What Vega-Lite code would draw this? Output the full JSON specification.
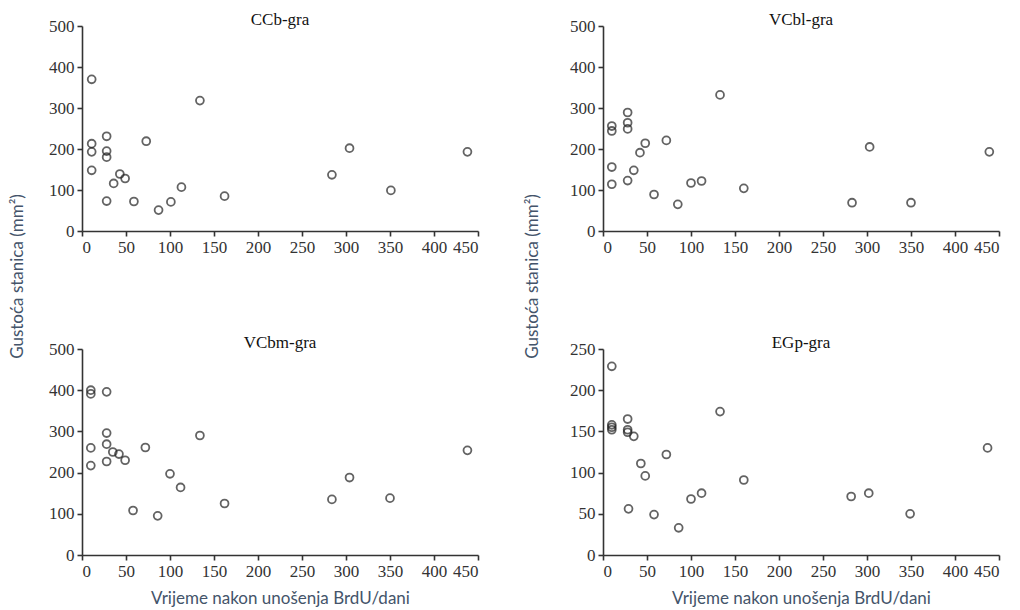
{
  "$schema": "https://vega.github.io/schema/vega-lite/v6.json",
  "background": "white",
  "padding": {"left": 8, "top": 11, "right": 5, "bottom": 5},
  "bounds": "flush",
  "columns": 2,
  "spacing": {"row": 118, "column": 125},
  "datasets": {
    "pts": [
      {"panel": "CCb-gra", "days": 11, "density": 370},
      {"panel": "CCb-gra", "days": 11, "density": 213},
      {"panel": "CCb-gra", "days": 11, "density": 193},
      {"panel": "CCb-gra", "days": 11, "density": 148},
      {"panel": "CCb-gra", "days": 28, "density": 231},
      {"panel": "CCb-gra", "days": 28, "density": 195},
      {"panel": "CCb-gra", "days": 28, "density": 180},
      {"panel": "CCb-gra", "days": 28, "density": 73},
      {"panel": "CCb-gra", "days": 36, "density": 116},
      {"panel": "CCb-gra", "days": 43, "density": 139},
      {"panel": "CCb-gra", "days": 49, "density": 128},
      {"panel": "CCb-gra", "days": 59, "density": 72},
      {"panel": "CCb-gra", "days": 73, "density": 219},
      {"panel": "CCb-gra", "days": 87, "density": 51},
      {"panel": "CCb-gra", "days": 101, "density": 71},
      {"panel": "CCb-gra", "days": 113, "density": 107},
      {"panel": "CCb-gra", "days": 134, "density": 318},
      {"panel": "CCb-gra", "days": 162, "density": 85},
      {"panel": "CCb-gra", "days": 284, "density": 137},
      {"panel": "CCb-gra", "days": 304, "density": 202},
      {"panel": "CCb-gra", "days": 351, "density": 99},
      {"panel": "CCb-gra", "days": 438, "density": 193},

      {"panel": "VCbl-gra", "days": 10, "density": 256},
      {"panel": "VCbl-gra", "days": 10, "density": 244},
      {"panel": "VCbl-gra", "days": 10, "density": 156},
      {"panel": "VCbl-gra", "days": 10, "density": 114},
      {"panel": "VCbl-gra", "days": 28, "density": 289},
      {"panel": "VCbl-gra", "days": 28, "density": 264},
      {"panel": "VCbl-gra", "days": 28, "density": 249},
      {"panel": "VCbl-gra", "days": 28, "density": 123},
      {"panel": "VCbl-gra", "days": 35, "density": 148},
      {"panel": "VCbl-gra", "days": 42, "density": 191},
      {"panel": "VCbl-gra", "days": 48, "density": 214},
      {"panel": "VCbl-gra", "days": 58, "density": 89},
      {"panel": "VCbl-gra", "days": 72, "density": 221},
      {"panel": "VCbl-gra", "days": 85, "density": 65},
      {"panel": "VCbl-gra", "days": 100, "density": 117},
      {"panel": "VCbl-gra", "days": 112, "density": 122},
      {"panel": "VCbl-gra", "days": 133, "density": 332},
      {"panel": "VCbl-gra", "days": 160, "density": 104},
      {"panel": "VCbl-gra", "days": 283, "density": 69},
      {"panel": "VCbl-gra", "days": 303, "density": 205},
      {"panel": "VCbl-gra", "days": 350, "density": 69},
      {"panel": "VCbl-gra", "days": 439, "density": 193},

      {"panel": "VCbm-gra", "days": 10, "density": 400},
      {"panel": "VCbm-gra", "days": 10, "density": 391},
      {"panel": "VCbm-gra", "days": 10, "density": 260},
      {"panel": "VCbm-gra", "days": 10, "density": 217},
      {"panel": "VCbm-gra", "days": 28, "density": 396},
      {"panel": "VCbm-gra", "days": 28, "density": 296},
      {"panel": "VCbm-gra", "days": 28, "density": 269},
      {"panel": "VCbm-gra", "days": 28, "density": 227},
      {"panel": "VCbm-gra", "days": 35, "density": 250},
      {"panel": "VCbm-gra", "days": 42, "density": 245},
      {"panel": "VCbm-gra", "days": 49, "density": 230},
      {"panel": "VCbm-gra", "days": 58, "density": 108},
      {"panel": "VCbm-gra", "days": 72, "density": 261},
      {"panel": "VCbm-gra", "days": 86, "density": 95},
      {"panel": "VCbm-gra", "days": 100, "density": 197},
      {"panel": "VCbm-gra", "days": 112, "density": 164},
      {"panel": "VCbm-gra", "days": 134, "density": 290},
      {"panel": "VCbm-gra", "days": 162, "density": 125},
      {"panel": "VCbm-gra", "days": 284, "density": 135},
      {"panel": "VCbm-gra", "days": 304, "density": 188},
      {"panel": "VCbm-gra", "days": 350, "density": 138},
      {"panel": "VCbm-gra", "days": 438, "density": 254},

      {"panel": "EGp-gra", "days": 10, "density": 229},
      {"panel": "EGp-gra", "days": 10, "density": 158},
      {"panel": "EGp-gra", "days": 10, "density": 155},
      {"panel": "EGp-gra", "days": 10, "density": 152},
      {"panel": "EGp-gra", "days": 28, "density": 165},
      {"panel": "EGp-gra", "days": 28, "density": 152},
      {"panel": "EGp-gra", "days": 28, "density": 149},
      {"panel": "EGp-gra", "days": 29, "density": 56},
      {"panel": "EGp-gra", "days": 35, "density": 144},
      {"panel": "EGp-gra", "days": 43, "density": 111},
      {"panel": "EGp-gra", "days": 48, "density": 96},
      {"panel": "EGp-gra", "days": 58, "density": 49},
      {"panel": "EGp-gra", "days": 72, "density": 122},
      {"panel": "EGp-gra", "days": 86, "density": 33},
      {"panel": "EGp-gra", "days": 100, "density": 68},
      {"panel": "EGp-gra", "days": 112, "density": 75},
      {"panel": "EGp-gra", "days": 133, "density": 174},
      {"panel": "EGp-gra", "days": 160, "density": 91},
      {"panel": "EGp-gra", "days": 282, "density": 71},
      {"panel": "EGp-gra", "days": 302, "density": 75},
      {"panel": "EGp-gra", "days": 349, "density": 50},
      {"panel": "EGp-gra", "days": 437, "density": 130}
    ]
  },
  "config": {
    "view": {"stroke": null},
    "title": {"font": "Liberation Serif", "fontSize": 17, "fontWeight": "normal", "color": "#111", "anchor": "middle", "offset": -12},
    "axis": {
      "grid": false,
      "domainColor": "#333",
      "domainWidth": 1.6,
      "tickColor": "#333",
      "tickWidth": 1.6,
      "tickSize": 5,
      "labelFont": "Liberation Serif",
      "labelFontSize": 17,
      "labelColor": "#333",
      "labelPadding": 3,
      "titleFont": "Lato",
      "titleFontSize": 17,
      "titleFontWeight": "normal",
      "titleColor": "#44546A"
    },
    "point": {"shape": "circle", "filled": false, "size": 62, "strokeWidth": 1.8, "color": "#222"}
  },
  "concat": [
    {
      "width": 396, "height": 205,
      "title": "CCb-gra",
      "data": {"name": "pts"},
      "transform": [{"filter": "datum.panel === 'CCb-gra'"}],
      "mark": {"type": "point"},
      "encoding": {
        "x": {"field": "days", "type": "quantitative", "scale": {"domain": [0, 450], "nice": false}, "axis": {"values": [0,50,100,150,200,250,300,350,400,450], "title": null}},
        "y": {"field": "density", "type": "quantitative", "scale": {"domain": [0, 500], "nice": false}, "axis": {"values": [0,100,200,300,400,500], "title": "Gustoća stanica (mm²)", "titleY": 250, "titleX": -56}}
      }
    },
    {
      "width": 396, "height": 205,
      "title": "VCbl-gra",
      "data": {"name": "pts"},
      "transform": [{"filter": "datum.panel === 'VCbl-gra'"}],
      "mark": {"type": "point"},
      "encoding": {
        "x": {"field": "days", "type": "quantitative", "scale": {"domain": [0, 450], "nice": false}, "axis": {"values": [0,50,100,150,200,250,300,350,400,450], "title": null}},
        "y": {"field": "density", "type": "quantitative", "scale": {"domain": [0, 500], "nice": false}, "axis": {"values": [0,100,200,300,400,500], "title": "Gustoća stanica (mm²)", "titleY": 250, "titleX": -62}}
      }
    },
    {
      "width": 396, "height": 206,
      "title": "VCbm-gra",
      "data": {"name": "pts"},
      "transform": [{"filter": "datum.panel === 'VCbm-gra'"}],
      "mark": {"type": "point"},
      "encoding": {
        "x": {"field": "days", "type": "quantitative", "scale": {"domain": [0, 450], "nice": false}, "axis": {"values": [0,50,100,150,200,250,300,350,400,450], "title": "Vrijeme nakon unošenja BrdU/dani", "titlePadding": 11}},
        "y": {"field": "density", "type": "quantitative", "scale": {"domain": [0, 500], "nice": false}, "axis": {"values": [0,100,200,300,400,500], "title": null}}
      }
    },
    {
      "width": 396, "height": 206,
      "title": "EGp-gra",
      "data": {"name": "pts"},
      "transform": [{"filter": "datum.panel === 'EGp-gra'"}],
      "mark": {"type": "point"},
      "encoding": {
        "x": {"field": "days", "type": "quantitative", "scale": {"domain": [0, 450], "nice": false}, "axis": {"values": [0,50,100,150,200,250,300,350,400,450], "title": "Vrijeme nakon unošenja BrdU/dani", "titlePadding": 11}},
        "y": {"field": "density", "type": "quantitative", "scale": {"domain": [0, 250], "nice": false}, "axis": {"values": [0,50,100,150,200,250], "title": null}}
      }
    }
  ]
}
